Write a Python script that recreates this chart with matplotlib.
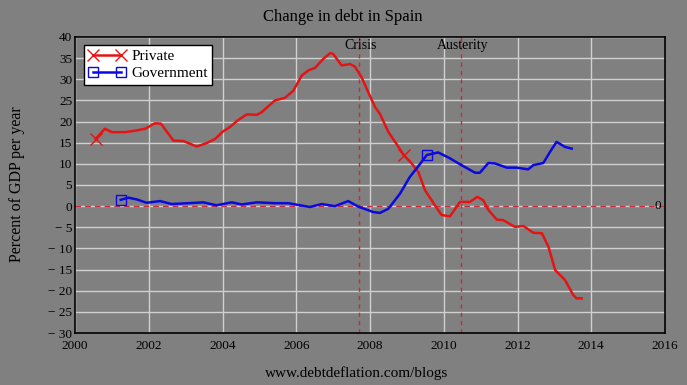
import matplotlib
matplotlib.use("Agg")
import matplotlib.pyplot as plt
from matplotlib.ticker import FuncFormatter

plt.rcParams['font.family'] = ['Liberation Serif', 'DejaVu Serif']

private_years = [2000.56, 2000.81, 2001.00, 2001.36, 2001.67, 2001.90, 2002.17, 2002.33,
                 2002.67, 2002.94, 2003.30, 2003.57, 2003.80, 2004.02, 2004.20, 2004.43,
                 2004.66, 2004.93, 2005.06, 2005.42, 2005.69, 2005.92, 2006.15, 2006.33,
                 2006.51, 2006.73, 2006.92, 2007.00, 2007.23, 2007.46, 2007.59, 2007.77,
                 2007.95, 2008.14, 2008.27, 2008.50, 2008.72, 2008.92, 2009.13, 2009.31,
                 2009.49, 2009.76, 2009.94, 2010.17, 2010.44, 2010.71, 2010.91, 2011.07,
                 2011.21, 2011.44, 2011.61, 2011.93, 2012.16, 2012.43, 2012.66, 2012.84,
                 2013.02, 2013.29, 2013.51, 2013.60, 2013.74]
private_vals = [15.9, 18.3, 17.5, 17.5, 17.9, 18.3, 19.6, 19.5,
                15.5, 15.4, 14.1, 14.9, 15.9, 17.7, 18.7, 20.4,
                21.7, 21.6, 22.2, 25.0, 25.6, 27.3, 30.9, 32.1,
                32.7, 34.8, 36.2, 36.0, 33.3, 33.6, 33.0, 30.5,
                27.0, 23.4, 21.8, 17.5, 14.7, 12.0, 10.1, 8.1,
                3.8, 0.2, -2.1, -2.4, 1.0, 1.0, 2.2, 1.4,
                -0.9, -3.2, -3.3, -4.9, -4.7, -6.3, -6.4, -9.6,
                -15.1, -17.5, -21.0, -21.8, -21.8]
private_marks = [0, 37]

gov_years = [2001.24, 2001.45, 2001.67, 2001.94, 2002.31, 2002.62, 2003.07, 2003.48,
             2003.84, 2004.25, 2004.52, 2004.93, 2005.42, 2005.78, 2006.37, 2006.69,
             2007.05, 2007.41, 2007.68, 2008.09, 2008.27, 2008.50, 2008.81, 2009.08,
             2009.36, 2009.54, 2009.85, 2010.17, 2010.44, 2010.85, 2010.98, 2011.21,
             2011.39, 2011.71, 2011.98, 2012.29, 2012.43, 2012.70, 2012.88, 2013.06,
             2013.29, 2013.47]
gov_vals = [1.5, 2.0, 1.6, 0.8, 1.2, 0.5, 0.7, 0.9,
            0.2, 0.9, 0.4, 0.9, 0.7, 0.7, -0.2, 0.5,
            0.0, 1.2, -0.1, -1.4, -1.6, -0.6, 2.9, 6.9,
            10.0, 12.1, 12.7, 11.3, 9.9, 7.9, 7.9, 10.2,
            10.1, 9.1, 9.1, 8.7, 9.7, 10.2, 12.8, 15.2,
            14.0, 13.6]
gov_marks = [0, 25]

event_years = [2007.70, 2010.47]
event_labels = ["Crisis", "Austerity"]

x_ticks = list(range(2000, 2017, 2))
y_ticks = list(range(-30, 41, 5))

BG = '#808080'
RED = '#e41414'
BLUE = '#0a0ae0'
DASH = '#c8283a'
GRID = '#d0d0d0'

fig = plt.figure(figsize=(6.87, 3.85), dpi=100, facecolor=BG)
ax = fig.add_axes([75/687, 1-333/385, 590/687, 296/385])
ax.set_facecolor(BG)

ax.set_xlim(2000, 2016)
ax.set_ylim(-30, 40)
ax.set_xticks(x_ticks)
ax.set_yticks(y_ticks)
ax.grid(True, color=GRID, lw=1.0)
ax.set_axisbelow(True)

def yfmt(v, pos):
    v = int(round(v))
    return f"\u2212 {abs(v)}" if v < 0 else f"{v}"
ax.yaxis.set_major_formatter(FuncFormatter(yfmt))
ax.tick_params(length=0, labelsize=9.5, colors='black')
ax.tick_params(axis='y', pad=2)
ax.tick_params(axis='x', pad=5)

for s in ax.spines.values():
    s.set_color('black')
    s.set_linewidth(1.2)

# zero line
ax.axhline(0, color=DASH, lw=1.0, ls=(0, (4, 3)), zorder=2)
ax.text(2015.8, 0, "0", ha='center', va='center', fontsize=9.5, color='black')

for yr, lab in zip(event_years, event_labels):
    ax.axvline(yr, color=DASH, lw=1.0, ls=(0, (3, 3)), zorder=2)
    ax.text(yr + 0.05, 37.9, lab, ha='center', va='center', fontsize=10, color='black')

ax.plot(private_years, private_vals, color=RED, lw=1.8, marker='x', markersize=9,
        markevery=private_marks, markeredgewidth=1.0, label='Private', zorder=3)
ax.plot(gov_years, gov_vals, color=BLUE, lw=1.8, marker='s', markersize=7,
        markevery=gov_marks, markerfacecolor='none', markeredgewidth=1.0,
        label='Government', zorder=3)

leg = ax.legend(loc='upper left', bbox_to_anchor=(9/590, 1-8/296), numpoints=2,
                fontsize=11, frameon=True, fancybox=False, framealpha=1,
                edgecolor='black', facecolor='white', handlelength=2.4,
                borderpad=0.3, labelspacing=0.2, handletextpad=0.4, borderaxespad=0)
leg.get_frame().set_linewidth(1.0)

fig.text(343/687, 1-17/385, "Change in debt in Spain", ha='center', va='center',
         fontsize=12, color='black')
fig.text(17/687, 1-184/385, "Percent of GDP per year", ha='center', va='center',
         rotation=90, fontsize=11.5, color='black')
fig.text(357/687, 1-373/385, "www.debtdeflation.com/blogs", ha='center', va='center',
         fontsize=11, color='black')

fig.savefig('out.png', dpi=100, facecolor=BG)
